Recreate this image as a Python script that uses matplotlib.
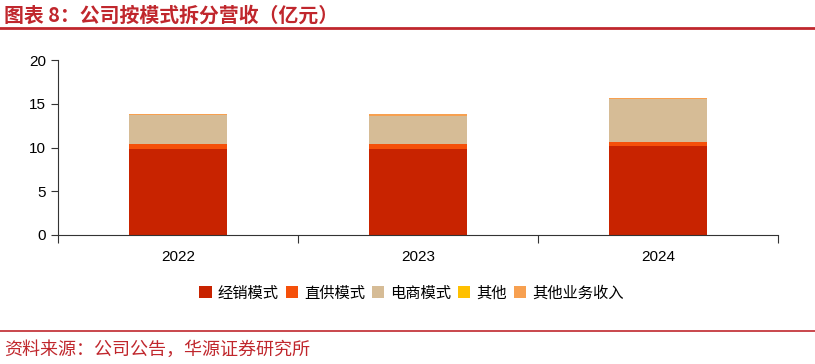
import matplotlib.pyplot as plt
import numpy as np

plt.rcParams['font.family'] = ['Liberation Sans', 'Noto Sans CJK SC', 'DejaVu Sans']

years = ['2022', '2023', '2024']
series = ['经销模式', '直供模式', '电商模式', '其他', '其他业务收入']
jingxiao = [9.8, 9.8, 10.2]
zhigong = [0.6, 0.57, 0.46]
dianshang = [3.3, 3.26, 4.88]
qita = [0.02, 0.02, 0.02]
qita_yewu = [0.13, 0.16, 0.08]
colors = ['#C82300', '#F5500A', '#D6BC96', '#FFC000', '#F7A050']

fig = plt.figure(figsize=(8.15, 3.64), dpi=100)
ax = fig.add_axes([0.0712, 0.3544, 0.8834, 0.4806])

x = np.arange(len(years))
bottom = np.zeros(len(years))
for name, vals, c in zip(series, [jingxiao, zhigong, dianshang, qita, qita_yewu], colors):
    ax.bar(x, vals, width=0.41, bottom=bottom, color=c, label=name)
    bottom += np.array(vals)

ax.set_xlim(-0.5, 2.5)
ax.set_ylim(0, 20)
ax.set_yticks([0, 5, 10, 15, 20])
ax.set_xticks([-0.5, 0.5, 1.5, 2.5])
ax.set_xticklabels([])
ax.set_xticks(x, minor=True)
ax.set_xticklabels(years, minor=True)
ax.tick_params(axis='x', which='minor', length=0, pad=11, labelsize=11)
ax.tick_params(axis='x', which='major', length=6, color='#333333')
ax.tick_params(axis='y', length=5, labelsize=11, color='#333333')
for s in ['top', 'right']:
    ax.spines[s].set_visible(False)
for s in ['left', 'bottom']:
    ax.spines[s].set_color('#333333')

leg = fig.legend(loc='center', bbox_to_anchor=(0.505, 0.195), ncol=5, frameon=False,
                 handlelength=0.8, handleheight=0.8, handletextpad=0.4,
                 columnspacing=0.45, prop={'family': ['Noto Sans CJK SC'], 'size': 11})

red = '#C0272D'
fig.text(0.005, 0.958, '图表 8：公司按模式拆分营收（亿元）', color=red, fontsize=14.3,
         fontweight='bold', family=['Noto Sans CJK SC'], va='center', ha='left')
fig.add_artist(plt.Line2D([0.0, 1.0], [0.922, 0.922], color=red, lw=2))
fig.add_artist(plt.Line2D([0.0, 1.0], [0.09, 0.09], color=red, lw=1.2))
fig.text(0.005, 0.038, '资料来源：公司公告，华源证券研究所', color=red, fontsize=13,
         family=['Noto Sans CJK SC'], va='center', ha='left')

fig.savefig('out.png', dpi=100)
